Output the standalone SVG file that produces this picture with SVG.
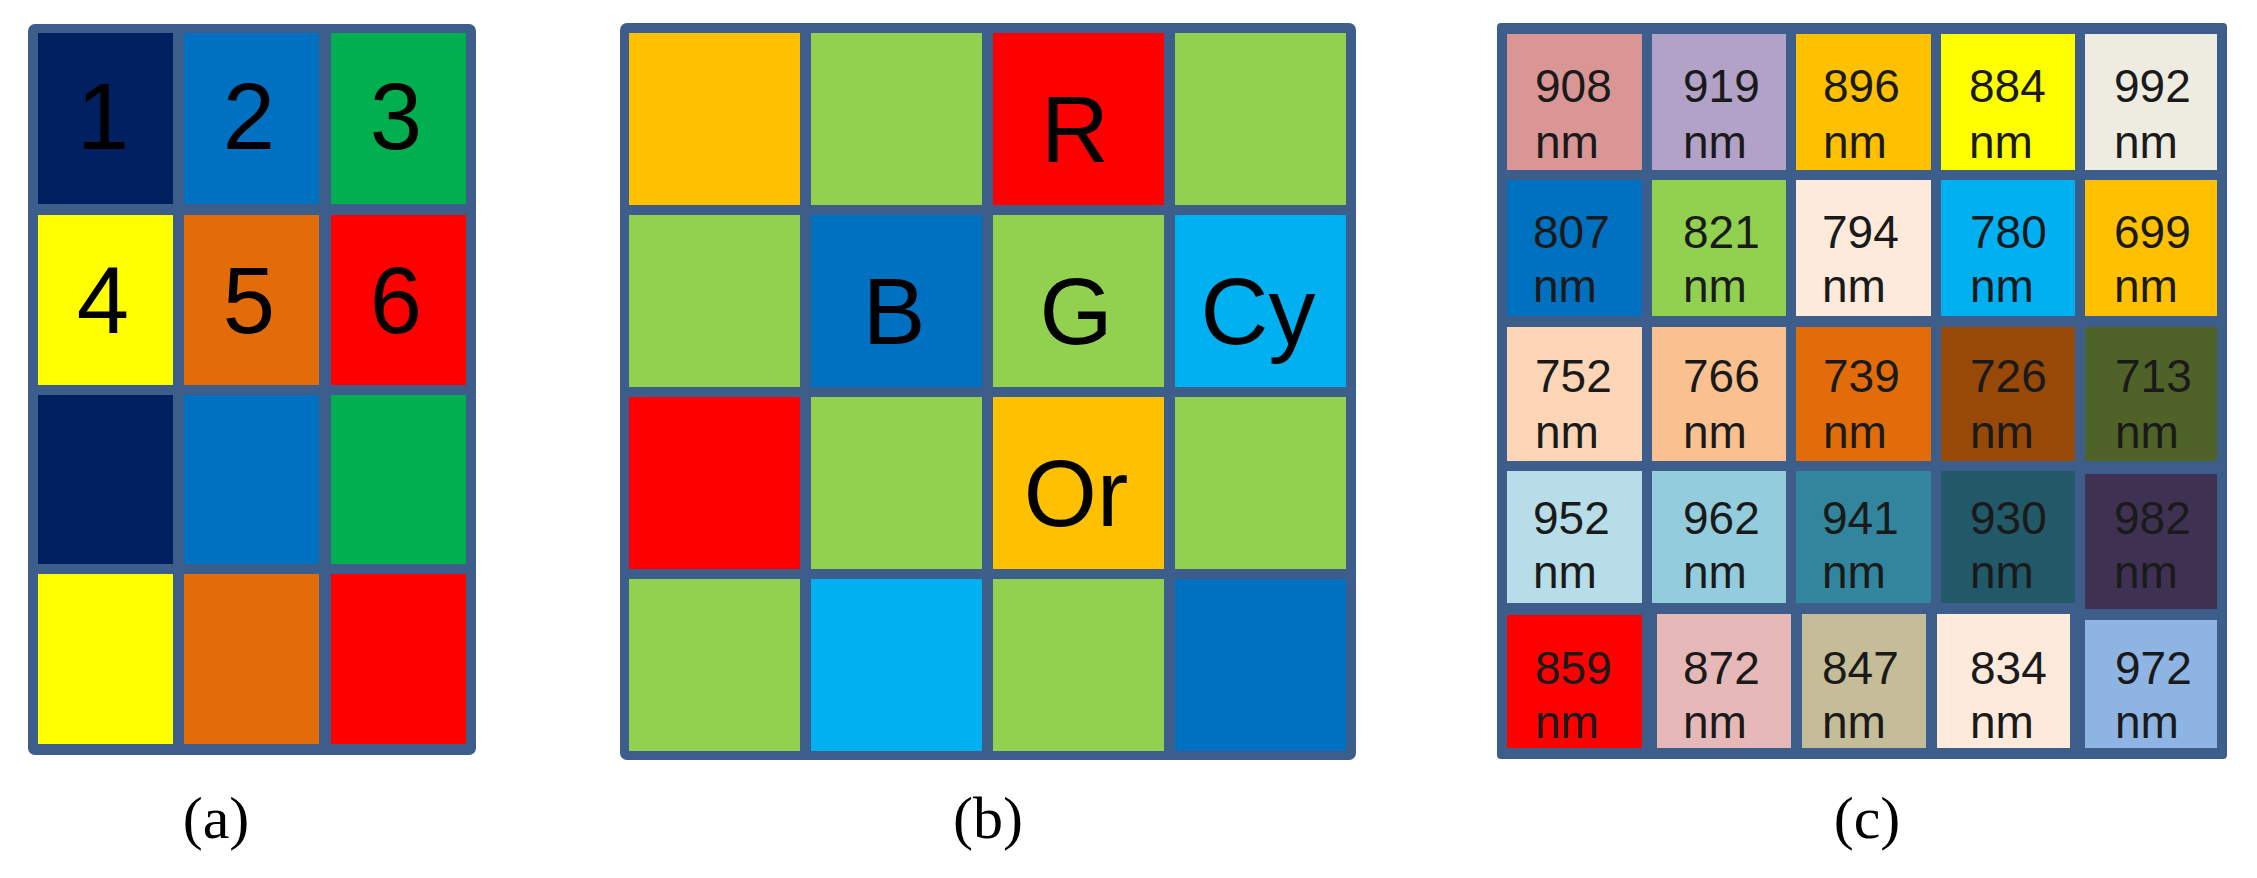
<svg xmlns="http://www.w3.org/2000/svg" width="2257" height="878" viewBox="0 0 2257 878">
<style>
.frame{fill:#3d5e8a}
.big{font-family:"Liberation Sans",Arial,sans-serif;font-size:94px;fill:#000;text-anchor:middle}
.nm{font-family:"Liberation Sans",Arial,sans-serif;font-size:46px;fill:#1a1a1a}
.cap{font-family:"Liberation Serif","Times New Roman",serif;font-size:60px;fill:#000;text-anchor:middle}
</style>
<rect width="2257" height="878" fill="#fff"/>
<g id="panel-a">
<rect class="frame" x="28" y="24" width="448" height="731" rx="7"/>
<rect x="38" y="33" width="135" height="171" fill="#002060"/>
<rect x="184" y="33" width="135" height="171" fill="#0070C0"/>
<rect x="331" y="33" width="135" height="171" fill="#00B050"/>
<rect x="38" y="215" width="135" height="170" fill="#FFFF00"/>
<rect x="184" y="215" width="135" height="170" fill="#E36C0A"/>
<rect x="331" y="215" width="135" height="170" fill="#FF0000"/>
<rect x="38" y="395" width="135" height="169" fill="#002060"/>
<rect x="184" y="395" width="135" height="169" fill="#0070C0"/>
<rect x="331" y="395" width="135" height="169" fill="#00B050"/>
<rect x="38" y="574" width="135" height="170" fill="#FFFF00"/>
<rect x="184" y="574" width="135" height="170" fill="#E36C0A"/>
<rect x="331" y="574" width="135" height="170" fill="#FF0000"/>
<text class="big" x="103" y="149">1</text>
<text class="big" x="249" y="149">2</text>
<text class="big" x="396" y="149">3</text>
<text class="big" x="103" y="333">4</text>
<text class="big" x="249" y="333">5</text>
<text class="big" x="396" y="333">6</text>
<text class="cap" x="216" y="838">(a)</text>
</g>
<g id="panel-b">
<rect class="frame" x="620" y="23" width="736" height="737" rx="7"/>
<rect x="629" y="33" width="171" height="172" fill="#FFC000"/>
<rect x="811" y="33" width="171" height="172" fill="#92D050"/>
<rect x="993" y="33" width="171" height="172" fill="#FF0000"/>
<rect x="1175" y="33" width="171" height="172" fill="#92D050"/>
<rect x="629" y="215" width="171" height="172" fill="#92D050"/>
<rect x="811" y="215" width="171" height="172" fill="#0070C0"/>
<rect x="993" y="215" width="171" height="172" fill="#92D050"/>
<rect x="1175" y="215" width="171" height="172" fill="#00B0F0"/>
<rect x="629" y="397" width="171" height="172" fill="#FF0000"/>
<rect x="811" y="397" width="171" height="172" fill="#92D050"/>
<rect x="993" y="397" width="171" height="172" fill="#FFC000"/>
<rect x="1175" y="397" width="171" height="172" fill="#92D050"/>
<rect x="629" y="579" width="171" height="172" fill="#92D050"/>
<rect x="811" y="579" width="171" height="172" fill="#00B0F0"/>
<rect x="993" y="579" width="171" height="172" fill="#92D050"/>
<rect x="1175" y="579" width="171" height="172" fill="#0070C0"/>
<text class="big" x="1075" y="162">R</text>
<text class="big" x="894" y="344">B</text>
<text class="big" x="1076" y="344">G</text>
<text class="big" x="1258" y="344">Cy</text>
<text class="big" x="1076" y="526">Or</text>
<text class="cap" x="988" y="838">(b)</text>
</g>
<g id="panel-c">
<rect class="frame" x="1497" y="23" width="730" height="736" rx="4"/>
<g id="c-r1">
<rect x="1507" y="34" width="135" height="136" fill="#D99694"/>
<rect x="1652" y="34" width="134" height="136" fill="#B2A2C7"/>
<rect x="1796" y="34" width="135" height="136" fill="#FFC000"/>
<rect x="1941" y="34" width="134" height="136" fill="#FFFF00"/>
<rect x="2085" y="34" width="132" height="136" fill="#EEECE1"/>
</g>
<g id="c-r2">
<rect x="1507" y="180" width="135" height="136" fill="#0070C0"/>
<rect x="1652" y="180" width="134" height="136" fill="#92D050"/>
<rect x="1796" y="180" width="135" height="136" fill="#FDEADA"/>
<rect x="1941" y="180" width="134" height="136" fill="#00B0F0"/>
<rect x="2085" y="180" width="132" height="136" fill="#FFC000"/>
</g>
<g id="c-r3">
<rect x="1507" y="327" width="135" height="134" fill="#FBD5B5"/>
<rect x="1652" y="327" width="134" height="134" fill="#FAC090"/>
<rect x="1796" y="327" width="135" height="134" fill="#E36C0A"/>
<rect x="1941" y="327" width="134" height="134" fill="#984807"/>
<rect x="2085" y="327" width="132" height="134" fill="#4F6228"/>
</g>
<g id="c-r4">
<rect x="1507" y="471" width="135" height="132" fill="#B7DDE8"/>
<rect x="1652" y="471" width="134" height="132" fill="#93CDDD"/>
<rect x="1796" y="471" width="135" height="132" fill="#31859C"/>
<rect x="1941" y="471" width="134" height="132" fill="#215968"/>
<rect x="2085" y="474" width="132" height="135" fill="#3F3151"/>
</g>
<g id="c-r5">
<rect x="1507" y="615" width="135" height="133" fill="#FF0000"/>
<rect x="1657" y="614" width="134" height="134" fill="#E6B9B8"/>
<rect x="1802" y="614" width="124" height="134" fill="#C4BD97"/>
<rect x="1937" y="614" width="133" height="134" fill="#FDEADA"/>
<rect x="2085" y="620" width="132" height="128" fill="#8EB4E3"/>
</g>
<g class="nm">
<text x="1535" y="102">908</text><text x="1535" y="158">nm</text>
<text x="1683" y="102">919</text><text x="1683" y="158">nm</text>
<text x="1823" y="102">896</text><text x="1823" y="158">nm</text>
<text x="1969" y="102">884</text><text x="1969" y="158">nm</text>
<text x="2114" y="102">992</text><text x="2114" y="158">nm</text>
<text x="1533" y="248">807</text><text x="1533" y="302">nm</text>
<text x="1683" y="248">821</text><text x="1683" y="302">nm</text>
<text x="1822" y="248">794</text><text x="1822" y="302">nm</text>
<text x="1970" y="248">780</text><text x="1970" y="302">nm</text>
<text x="2114" y="248">699</text><text x="2114" y="302">nm</text>
<text x="1535" y="392">752</text><text x="1535" y="448">nm</text>
<text x="1683" y="392">766</text><text x="1683" y="448">nm</text>
<text x="1823" y="392">739</text><text x="1823" y="448">nm</text>
<text x="1970" y="392">726</text><text x="1970" y="448">nm</text>
<text x="2115" y="392">713</text><text x="2115" y="448">nm</text>
<text x="1533" y="534">952</text><text x="1533" y="588">nm</text>
<text x="1683" y="534">962</text><text x="1683" y="588">nm</text>
<text x="1822" y="534">941</text><text x="1822" y="588">nm</text>
<text x="1970" y="534">930</text><text x="1970" y="588">nm</text>
<text x="2114" y="534">982</text><text x="2114" y="588">nm</text>
<text x="1535" y="684">859</text><text x="1535" y="738">nm</text>
<text x="1683" y="684">872</text><text x="1683" y="738">nm</text>
<text x="1822" y="684">847</text><text x="1822" y="738">nm</text>
<text x="1970" y="684">834</text><text x="1970" y="738">nm</text>
<text x="2115" y="684">972</text><text x="2115" y="738">nm</text>
</g>
<text class="cap" x="1867" y="838">(c)</text>
</g>
</svg>
